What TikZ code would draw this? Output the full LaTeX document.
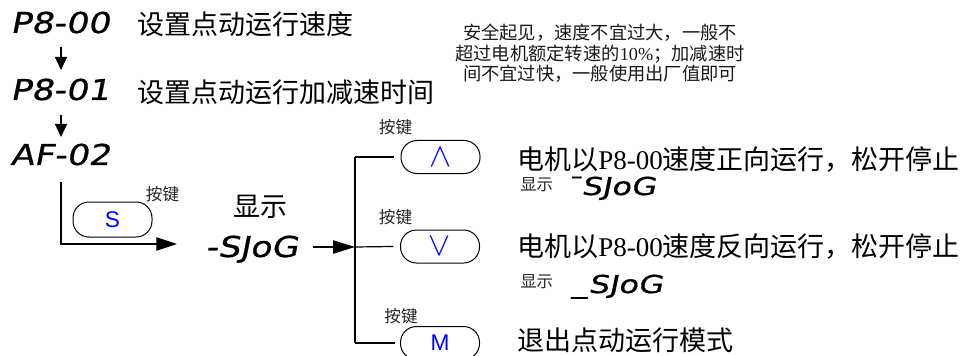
\documentclass[tikz,border=0pt]{standalone}
\usepackage{fontspec}
\usepackage{graphicx}
\setmainfont{Liberation Serif}
\newfontfamily\cjk{Noto Sans CJK SC}
\newfontfamily\segfont[FakeSlant=0.2,FakeStretch=1.2,FakeBold=0.8]{DejaVu Sans}
\newfontfamily\segfontb[FakeSlant=0.2,FakeStretch=1.3,FakeBold=0.8]{DejaVu Sans}
\newfontfamily\btnfont{Liberation Sans}
\usetikzlibrary{arrows.meta}
\begin{document}
\begin{tikzpicture}[x=0.75pt,y=-0.75pt,
  seg/.style={inner sep=0pt, anchor=base west, font=\segfont\fontsize{21.6}{24}\selectfont},
  segsmall/.style={inner sep=0pt, anchor=base west, font=\segfontb\fontsize{18.5}{20}\selectfont},
  desc/.style={inner sep=0pt, anchor=west, font=\fontsize{20.25}{24}\selectfont},
  keylbl/.style={inner sep=0pt, font=\cjk\fontsize{12.5}{14}\selectfont, text=black!85},
  showlbl/.style={inner sep=0pt, anchor=west, font=\cjk\fontsize{12.3}{14}\selectfont, text=black!85},
  btn/.style={draw, line width=0.75pt, rounded corners=12pt, minimum width=59.25pt,
              minimum height=24.75pt, inner sep=0pt, text=blue},
  conn/.style={line width=0.9pt},
  downarr/.style={conn, -{Triangle[length=9.75pt,width=9pt]}},
  bigarr/.style={conn, -{Triangle[length=15.5pt,width=10pt]}},
]
\useasboundingbox (0,0) rectangle (966,356);

% left column of parameter displays
\node[seg] (p800) at (10,33) {P8-00};
\node[seg] (p801) at (10,100) {P8-01};
\node[seg] (af02) at (10,165) {AF-02};
\node[desc] (d1) at (137,24) {\cjk 设置点动运行速度};
\node[desc] (d2) at (137,92) {\cjk 设置点动运行加减速时间};

\coordinate (a1s) at (61,47);
\coordinate (a1e) at (61,70);
\coordinate (a2s) at (61,115);
\coordinate (a2e) at (61,137);
\draw[downarr] (a1s) -- (a1e);
\draw[downarr] (a2s) -- (a2e);

% note
\node[inner sep=0pt, align=center, font=\fontsize{13.7}{15.4}\selectfont, text=black!90] (note) at (600,53.5)
  {{\cjk 安全起见，速度不宜过大，一般不}\\{\cjk 超过电机额定转速的}10\%{\cjk ；加减速时}\\{\cjk 间不宜过快，一般使用出厂值即可}};

% S key and display
\node[btn, font=\btnfont\fontsize{17}{20}\selectfont, minimum height=26.25pt] (sbtn) at (112.5,219.5) {S};
\node[keylbl] (ks) at (162.5,194) {按键};
\node[inner sep=0pt, font=\cjk\fontsize{20.25}{24}\selectfont] (show) at (260,207) {显示};
\node[seg] (sjog) at (205,257) {-SJoG};

\coordinate (lstart) at (61,182);
\coordinate (sjin) at (177,244);
\draw[bigarr] (lstart) |- (sjin);

% bus
\coordinate (bustop) at (355,157);
\coordinate (busmid) at (355,247);
\coordinate (busbot) at (355,343);
\coordinate (sjout) at (313,247);
\draw[conn] (bustop) -- (busbot);
\draw[conn, -{Triangle[length=16.5pt,width=10pt]}] (sjout) -- (busmid);

% keys
\node[btn, font=\fontsize{24.88}{26}\selectfont] (up) at (440.5,157) {$\wedge$};
\node[btn, font=\fontsize{24.88}{26}\selectfont] (dn) at (440,246.5) {$\vee$};
\node[btn, font=\btnfont\fontsize{17}{20}\selectfont] (mb) at (440,343) {M};
\node[keylbl] (k1) at (395.5,127) {按键};
\node[keylbl] (k2) at (395.5,217) {按键};
\node[keylbl] (k3) at (401,316) {按键};

\draw[conn] (bustop) -- ([xshift=-5pt]up.west);
\draw[conn] (busmid) -- ([xshift=-5pt]dn.west);
\draw[conn] (busbot) -- ([xshift=-4pt]mb.west);

% results
\node[desc] (r1) at (517,160) {{\cjk 电机以}P8-00{\cjk 速度正向运行，松开停止}};
\node[showlbl] (s1) at (520,185) {显示};
\node[segsmall] (fwd) at (565,195) {¯SJoG};
\node[desc] (r2) at (517,247) {{\cjk 电机以}P8-00{\cjk 速度反向运行，松开停止}};
\node[showlbl] (s2) at (520,282) {显示};
\node[segsmall] (rev) at (572,293) {\_SJoG};
\node[desc] (r3) at (517,340) {\cjk 退出点动运行模式};
\end{tikzpicture}
\end{document}
